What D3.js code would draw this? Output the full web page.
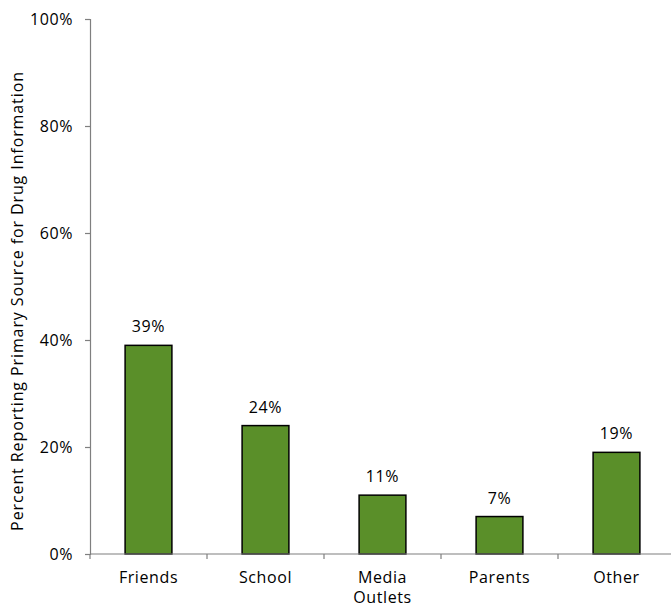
<!DOCTYPE html>
<html>
<head>
<meta charset="utf-8">
<script src="https://cdn.jsdelivr.net/npm/d3@7"></script>
<style>
  html, body { margin: 0; padding: 0; background: #fff; }
  svg { display: block; font-family: "Open Sans", "Noto Sans", sans-serif; }
  text { letter-spacing: 0.6px; }
</style>
</head>
<body>
<svg id="chart" width="671" height="607"></svg>
<script>
// Primary sources of drug information
const categories = [["Friends"], ["School"], ["Media", "Outlets"], ["Parents"], ["Other"]];
const values = [39, 24, 11, 7, 19];
const yTicks = [0, 20, 40, 60, 80, 100];
const yLabel = "Percent Reporting Primary Source for Drug Information";

const svg = d3.select("#chart");
const margin = { left: 90, top: 19, right: -4, bottom: 53 };
const W = 671, H = 607;
const x0 = margin.left, x1 = W - margin.right, y0 = H - margin.bottom, yTop = margin.top;
const fs = 16;

const x = d3.scaleBand().domain(d3.range(values.length)).range([x0, x1]);
const y = d3.scaleLinear().domain([0, 100]).range([y0, yTop]);
const barW = x.bandwidth() * 0.4;
const axisColor = "#7f7f7f";

// y axis
const yAxis = svg.append("g").attr("transform", `translate(${x0},0)`)
  .call(d3.axisLeft(y).tickValues(yTicks).tickSize(5).tickFormat(d => d + "%"));
yAxis.select(".domain").attr("stroke", axisColor).attr("stroke-width", 1.2);
yAxis.selectAll(".tick line").attr("stroke", axisColor).attr("stroke-width", 1.2);
yAxis.selectAll(".tick text").attr("fill", "#000").attr("font-size", fs)
  .attr("font-family", "'Open Sans', 'Noto Sans', sans-serif").attr("x", -17).attr("dy", "0.35em");

// y axis title
svg.append("text")
  .attr("transform", `translate(23,301) rotate(-90)`)
  .attr("text-anchor", "middle").attr("font-size", fs).attr("fill", "#000")
  .style("letter-spacing", "0.9px")
  .text(yLabel);

// bars
svg.append("g").selectAll("rect").data(values).join("rect")
  .attr("x", (d, i) => x(i) + (x.bandwidth() - barW) / 2)
  .attr("y", d => y(d))
  .attr("width", barW)
  .attr("height", d => y0 - y(d))
  .attr("fill", "#5a8f29")
  .attr("stroke", "#000").attr("stroke-width", 1.5);

// value labels
svg.append("g").selectAll("text").data(values).join("text")
  .attr("x", (d, i) => x(i) + x.bandwidth() / 2)
  .attr("y", d => y(d) - 13)
  .attr("text-anchor", "middle").attr("font-size", fs).attr("fill", "#000")
  .text(d => d + "%");

// x axis with ticks at category boundaries
const xg = svg.append("g");
xg.append("line").attr("x1", x0).attr("x2", x1).attr("y1", y0).attr("y2", y0)
  .attr("stroke", axisColor).attr("stroke-width", 1.2);
xg.selectAll(".sep").data(d3.range(values.length + 1)).join("line")
  .attr("x1", i => x0 + i * x.step()).attr("x2", i => x0 + i * x.step())
  .attr("y1", y0).attr("y2", y0 + 5)
  .attr("stroke", axisColor).attr("stroke-width", 1.2);

// category labels
const cl = svg.append("g").selectAll("text").data(categories).join("text")
  .attr("x", (d, i) => x(i) + x.bandwidth() / 2)
  .attr("y", y0 + 29)
  .attr("text-anchor", "middle").attr("font-size", fs).attr("fill", "#000");
cl.selectAll("tspan").data(d => d).join("tspan")
  .attr("x", function () { return this.parentNode.getAttribute("x"); })
  .attr("dy", (d, i) => i === 0 ? 0 : 20)
  .text(d => d);
</script>
</body>
</html>
